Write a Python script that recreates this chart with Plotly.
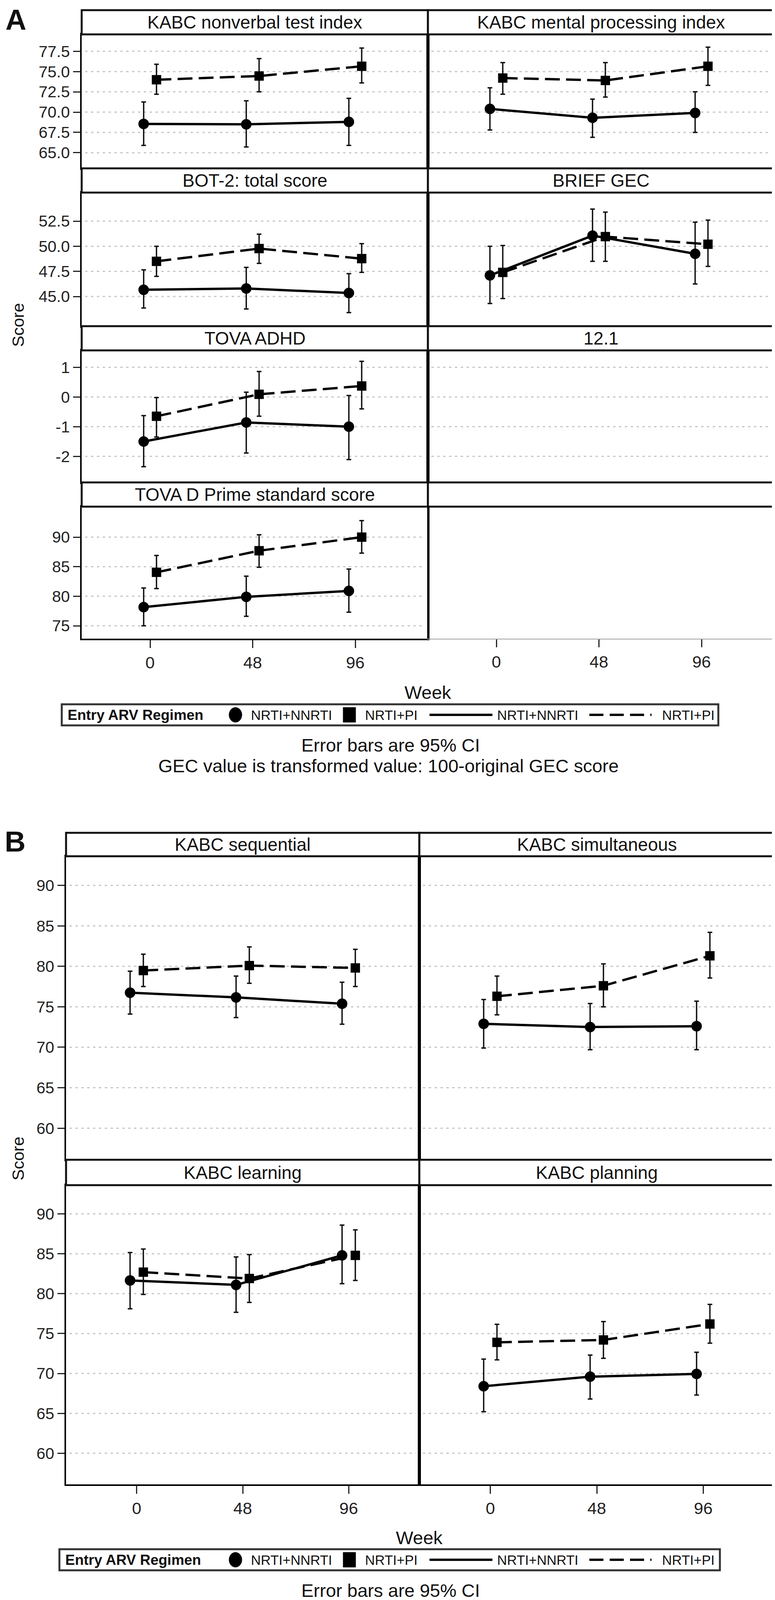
import numpy as np
import plotly.graph_objects as go

W, H = 1983, 4102
FONT = "Liberation Sans, Arial, sans-serif"

weeks = [0, 48, 96]
dodge = 3  # weeks, circles left / squares right

# ---- Panel A values (mean, lower CI, upper CI), order: week 0, 48, 96
nonverbal_nnrti = [68.55, 68.5, 68.8]
nonverbal_nnrti_lo = [65.9, 65.7, 65.9]
nonverbal_nnrti_hi = [71.25, 71.4, 71.7]
nonverbal_pi = [73.99, 74.45, 75.65]
nonverbal_pi_lo = [72.2, 72.5, 73.6]
nonverbal_pi_hi = [75.9, 76.6, 77.9]

mental_nnrti = [70.4, 69.3, 69.9]
mental_nnrti_lo = [67.8, 66.9, 67.5]
mental_nnrti_hi = [73.0, 71.6, 72.5]
mental_pi = [74.2, 73.9, 75.65]
mental_pi_lo = [72.2, 71.85, 73.3]
mental_pi_hi = [76.1, 76.1, 78.0]

bot2_nnrti = [45.67, 45.8, 45.35]
bot2_nnrti_lo = [43.86, 43.76, 43.4]
bot2_nnrti_hi = [47.66, 47.9, 47.28]
bot2_pi = [48.5, 49.77, 48.77]
bot2_pi_lo = [47.0, 48.3, 47.4]
bot2_pi_hi = [50.0, 51.2, 50.26]

gec_nnrti = [47.1, 51.06, 49.25]
gec_nnrti_lo = [44.3, 48.5, 46.25]
gec_nnrti_hi = [50.0, 53.7, 52.4]
gec_pi = [47.4, 50.96, 50.2]
gec_pi_lo = [44.8, 48.5, 48.0]
gec_pi_hi = [50.07, 53.4, 52.6]

adhd_nnrti = [-1.5, -0.86, -1.0]
adhd_nnrti_lo = [-2.35, -1.89, -2.11]
adhd_nnrti_hi = [-0.63, 0.16, 0.05]
adhd_pi = [-0.65, 0.09, 0.37]
adhd_pi_lo = [-1.35, -0.65, -0.4]
adhd_pi_hi = [-0.02, 0.86, 1.2]

dprime_nnrti = [78.16, 79.9, 80.9]
dprime_nnrti_lo = [75.0, 76.6, 77.3]
dprime_nnrti_hi = [81.4, 83.4, 84.6]
dprime_pi = [84.05, 87.7, 90.0]
dprime_pi_lo = [81.3, 84.9, 87.3]
dprime_pi_hi = [86.9, 90.4, 92.8]

# ---- Panel B values
seq_nnrti = [76.74, 76.16, 75.38]
seq_nnrti_lo = [74.1, 73.67, 72.85]
seq_nnrti_hi = [79.4, 78.8, 78.04]
seq_pi = [79.48, 80.09, 79.8]
seq_pi_lo = [77.5, 77.9, 77.5]
seq_pi_hi = [81.5, 82.4, 82.1]

simul_nnrti = [72.9, 72.5, 72.6]
simul_nnrti_lo = [69.9, 69.7, 69.7]
simul_nnrti_hi = [75.9, 75.4, 75.7]
simul_pi = [76.3, 77.6, 81.3]
simul_pi_lo = [74.0, 75.0, 78.55]
simul_pi_hi = [78.8, 80.3, 84.2]

learn_nnrti = [81.66, 81.1, 84.8]
learn_nnrti_lo = [78.1, 77.66, 81.25]
learn_nnrti_hi = [85.15, 84.6, 88.6]
learn_pi = [82.7, 81.9, 84.8]
learn_pi_lo = [79.9, 78.9, 81.66]
learn_pi_hi = [85.6, 84.9, 88.0]

plan_nnrti = [68.4, 69.6, 69.94]
plan_nnrti_lo = [65.2, 66.8, 67.3]
plan_nnrti_hi = [71.8, 72.3, 72.66]
plan_pi = [73.9, 74.2, 76.2]
plan_pi_lo = [71.7, 71.9, 73.8]
plan_pi_hi = [76.16, 76.5, 78.66]

# tick labels
ticks_a1 = [65.0, 67.5, 70.0, 72.5, 75.0, 77.5]
ticks_a2 = [45.0, 47.5, 50.0, 52.5]
ticks_a3 = [-2, -1, 0, 1]
ticks_a3_text = ["-2", "-1", "0", "1"]
ticks_a4 = [75, 80, 85, 90]
ticks_b = [60, 65, 70, 75, 80, 85, 90]


def px(x):
    return x / W


def py(y):
    return 1 - y / H


fig = go.Figure()
shapes = []
annotations = []
n_ax = [0]


def add_cell(x0, x1, y0, y1, xrange, yrange, yticks, yticktext, left, bottom,
             grid=True, series=None, border="black"):
    n_ax[0] += 1
    n = n_ax[0]
    xname = "xaxis" if n == 1 else f"xaxis{n}"
    yname = "yaxis" if n == 1 else f"yaxis{n}"
    xref = "x" if n == 1 else f"x{n}"
    yref = "y" if n == 1 else f"y{n}"
    lw = 4 if border == "black" else 2
    fig.layout[xname] = dict(
        domain=[px(x0), px(x1)], anchor=yref, range=xrange,
        tickvals=weeks, showticklabels=bottom, ticks="outside" if bottom else "",
        ticklen=20, tickwidth=3, tickcolor="#222",
        tickfont=dict(size=43, color="#222", family=FONT),
        showgrid=False, zeroline=False, showline=True, mirror=True,
        linecolor=border, linewidth=lw, fixedrange=True,
    )
    fig.layout[yname] = dict(
        domain=[py(y1), py(y0)], anchor=xref, range=yrange,
        tickvals=yticks, ticktext=yticktext, showticklabels=left,
        ticks="outside" if left else "", ticklen=18, tickwidth=3, tickcolor="#222",
        tickfont=dict(size=41, color="#222", family=FONT),
        showgrid=False, zeroline=False, showline=True, mirror=True,
        linecolor=border, linewidth=lw, fixedrange=True,
    )
    # dotted reference lines at the y ticks, in axis coordinates
    if grid:
        for v in yticks:
            shapes.append(dict(type="line", xref=f"{xref} domain", yref=yref,
                               x0=0.01, x1=0.99, y0=v, y1=v, layer="below",
                               line=dict(color="#c4c4c4", width=3, dash="6px,9px")))
    if series is None:
        # empty cell: an invisible trace so the subplot is drawn
        fig.add_trace(go.Scatter(x=weeks, y=[None] * 3, xaxis=xref, yaxis=yref,
                                 mode="markers", marker=dict(opacity=0),
                                 showlegend=False, hoverinfo="skip"))
        return
    m1, lo1, hi1, m2, lo2, hi2 = [np.array(s, dtype=float) for s in series]
    fig.add_trace(go.Scatter(
        x=np.array(weeks) - dodge, y=m1, xaxis=xref, yaxis=yref,
        mode="lines+markers", showlegend=False,
        line=dict(color="black", width=6),
        marker=dict(symbol="circle", size=27, color="black"),
        error_y=dict(type="data", symmetric=False, array=hi1 - m1,
                     arrayminus=m1 - lo1, color="#111", thickness=3.5, width=6),
    ))
    fig.add_trace(go.Scatter(
        x=np.array(weeks) + dodge, y=m2, xaxis=xref, yaxis=yref,
        mode="lines+markers", showlegend=False,
        line=dict(color="black", width=6, dash="38px,16px"),
        marker=dict(symbol="square", size=24, color="black"),
        error_y=dict(type="data", symmetric=False, array=hi2 - m2,
                     arrayminus=m2 - lo2, color="#111", thickness=3.5, width=6),
    ))


def header(x0, x1, y0, y1, text):
    shapes.append(dict(type="rect", xref="paper", yref="paper",
                       x0=px(x0), x1=px(x1), y0=py(y1), y1=py(y0),
                       line=dict(color="#111", width=5), fillcolor="white", layer="above"))
    if text:
        annotations.append(dict(xref="paper", yref="paper", x=px((x0 + x1) / 2),
                                y=py((y0 + y1) / 2), text=text, showarrow=False,
                                xanchor="center", yanchor="middle",
                                font=dict(size=46, color="#111", family=FONT)))


def text(x, y, s, size, bold=False, anchor="center", angle=0, color="#111"):
    annotations.append(dict(xref="paper", yref="paper", x=px(x), y=py(y),
                            text=f"<b>{s}</b>" if bold else s, showarrow=False,
                            xanchor=anchor, yanchor="middle", textangle=angle,
                            font=dict(size=size, color=color, family=FONT)))


def legend(x0, x1, yc):
    shapes.append(dict(type="rect", xref="paper", yref="paper",
                       x0=px(x0), x1=px(x1), y0=py(yc + 27), y1=py(yc - 27),
                       line=dict(color="#333", width=5), fillcolor="white"))
    text(x0 + 13, yc, "Entry ARV Regimen", 37, bold=True, anchor="left")
    shapes.append(dict(type="circle", xref="paper", yref="paper",
                       x0=px(578), x1=px(611), y0=py(yc + 19), y1=py(yc - 19),
                       fillcolor="black", line=dict(color="black", width=1)))
    text(632, yc, "NRTI+NNRTI", 35, anchor="left")
    shapes.append(dict(type="rect", xref="paper", yref="paper",
                       x0=px(870), x1=px(902), y0=py(yc + 19), y1=py(yc - 19),
                       fillcolor="black", line=dict(color="black", width=1)))
    text(924, yc, "NRTI+PI", 35, anchor="left")
    shapes.append(dict(type="line", xref="paper", yref="paper",
                       x0=px(1091), x1=px(1252), y0=py(yc), y1=py(yc),
                       line=dict(color="black", width=6)))
    text(1262, yc, "NRTI+NNRTI", 35, anchor="left")
    shapes.append(dict(type="line", xref="paper", yref="paper",
                       x0=px(1500), x1=px(1659), y0=py(yc), y1=py(yc),
                       line=dict(color="black", width=6, dash="36px,16px")))
    text(1684, yc, "NRTI+PI", 35, anchor="left")


# ---------------- Panel A ----------------
ca = [(201, 1087), (1087, 1973)]
xr_a = [-32, 130]
ra = [(18, 80, 423), (423, 485, 827), (827, 889, 1227), (1227, 1289, 1627)]
yr_a = [[63.07, 79.58], [42.05, 55.34], [-2.88, 1.57], [72.82, 95.16]]
tv_a = [ticks_a1, ticks_a2, ticks_a3, ticks_a4]
tt_a = [[f"{v:.1f}" for v in ticks_a1], [f"{v:.1f}" for v in ticks_a2],
        ticks_a3_text, [str(v) for v in ticks_a4]]
titles_a = [["KABC nonverbal test index", "KABC mental processing index"],
            ["BOT-2: total score", "BRIEF GEC"],
            ["TOVA ADHD", "12.1"],
            ["TOVA D Prime standard score", ""]]
series_a = [
    [(nonverbal_nnrti, nonverbal_nnrti_lo, nonverbal_nnrti_hi, nonverbal_pi, nonverbal_pi_lo, nonverbal_pi_hi),
     (mental_nnrti, mental_nnrti_lo, mental_nnrti_hi, mental_pi, mental_pi_lo, mental_pi_hi)],
    [(bot2_nnrti, bot2_nnrti_lo, bot2_nnrti_hi, bot2_pi, bot2_pi_lo, bot2_pi_hi),
     (gec_nnrti, gec_nnrti_lo, gec_nnrti_hi, gec_pi, gec_pi_lo, gec_pi_hi)],
    [(adhd_nnrti, adhd_nnrti_lo, adhd_nnrti_hi, adhd_pi, adhd_pi_lo, adhd_pi_hi), None],
    [(dprime_nnrti, dprime_nnrti_lo, dprime_nnrti_hi, dprime_pi, dprime_pi_lo, dprime_pi_hi), None],
]
for r, (h0, h1, b) in enumerate(ra):
    for c, (x0, x1) in enumerate(ca):
        empty = (r == 3 and c == 1)
        add_cell(x0, x1, h1, b, xr_a, yr_a[r], tv_a[r], tt_a[r],
                 left=(c == 0), bottom=(r == 3), grid=not empty,
                 series=series_a[r][c], border="#a0a0a0" if empty else "black")
        header(x0, x1, h0, h1, titles_a[r][c])
# divider between the last row cells
shapes.append(dict(type="line", xref="paper", yref="paper", x0=px(1087), x1=px(1087),
                   y0=py(1627), y1=py(1289), line=dict(color="black", width=4)))

text(32, 42, "A", 74, bold=True)
text(38, 824, "Score", 43, angle=-90)
text(1087, 1765, "Week", 47)
legend(150, 1830, 1822)
text(991, 1899, "Error bars are 95% CI", 47)
text(986, 1952, "GEC value is transformed value: 100-original GEC score", 47)

# ---------------- Panel B ----------------
cb = [(161, 1065), (1065, 1973)]
xr_b = [-32, 128]
rb = [(2124, 2184, 2961), (2961, 3026, 3792)]
yr_b = [56.1, 93.6]
titles_b = [["KABC sequential", "KABC simultaneous"],
            ["KABC learning", "KABC planning"]]
series_b = [
    [(seq_nnrti, seq_nnrti_lo, seq_nnrti_hi, seq_pi, seq_pi_lo, seq_pi_hi),
     (simul_nnrti, simul_nnrti_lo, simul_nnrti_hi, simul_pi, simul_pi_lo, simul_pi_hi)],
    [(learn_nnrti, learn_nnrti_lo, learn_nnrti_hi, learn_pi, learn_pi_lo, learn_pi_hi),
     (plan_nnrti, plan_nnrti_lo, plan_nnrti_hi, plan_pi, plan_pi_lo, plan_pi_hi)],
]
for r, (h0, h1, b) in enumerate(rb):
    for c, (x0, x1) in enumerate(cb):
        add_cell(x0, x1, h1, b, xr_b, yr_b, ticks_b, [str(v) for v in ticks_b],
                 left=(c == 0), bottom=(r == 1), series=series_b[r][c])
        header(x0, x1, h0, h1, titles_b[r][c])

text(30, 2146, "B", 74, bold=True)
text(38, 2958, "Score", 43, angle=-90)
text(1065, 3928, "Week", 47)
legend(144, 1834, 3985)
text(991, 4063, "Error bars are 95% CI", 47)

fig.update_layout(
    width=W, height=H, autosize=False,
    margin=dict(l=0, r=0, t=0, b=0),
    paper_bgcolor="white", plot_bgcolor="white",
    showlegend=False, shapes=shapes, annotations=annotations,
    font=dict(family=FONT, color="#111"),
)

fig.write_html("out.html")
